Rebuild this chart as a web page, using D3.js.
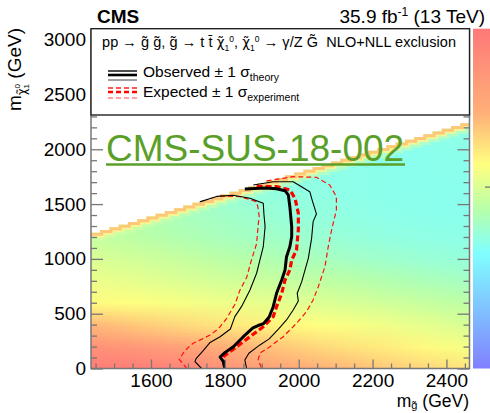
<!DOCTYPE html>
<html><head><meta charset="utf-8">
<script src="https://cdnjs.cloudflare.com/ajax/libs/d3/7.8.5/d3.min.js"></script>
<style>body{margin:0;background:#fff;}svg{display:block;font-family:"Liberation Sans",Arial,Helvetica,sans-serif;}</style>
</head><body><svg id="c" width="490" height="413"></svg>
<script>
// ---------------- data ----------------
const mGluino = [1450,1550,1650,1750,1850,1950,2050,2150,2250,2350,2450];
const mChi = [0,200,400,600,800,1000,1200,1400,1600,1800,2000,2200];
// 95% CL upper limit on cross section (pb); rows follow mChi, columns follow mGluino
const xsecLimit = [
 [0.078,0.075,0.068,0.055,0.042,0.034,0.028,0.024,0.021,0.019,0.017],
 [0.050,0.045,0.038,0.031,0.026,0.022,0.019,0.017,0.0155,0.014,0.0125],
 [0.025,0.022,0.0195,0.0175,0.0158,0.0145,0.0135,0.0127,0.0118,0.0108,0.0098],
 [0.0138,0.0134,0.0128,0.0122,0.0115,0.0108,0.0102,0.0096,0.009,0.0084,0.0078],
 [0.0116,0.011,0.0103,0.0096,0.009,0.0085,0.008,0.0075,0.007,0.0066,0.0062],
 [0.0098,0.0092,0.0086,0.0079,0.0073,0.0068,0.0064,0.006,0.0057,0.0054,0.0052],
 [0.0083,0.0077,0.0071,0.0066,0.0062,0.0058,0.0055,0.0052,0.005,0.0049,0.0048],
 [0.0078,0.0072,0.0066,0.0061,0.0057,0.0053,0.0051,0.0049,0.0047,0.0046,0.0046],
 [0.0074,0.0068,0.0062,0.0057,0.0053,0.005,0.0049,0.0047,0.0046,0.0046,0.0046],
 [0.0072,0.0066,0.006,0.0055,0.0051,0.0049,0.0048,0.0047,0.0046,0.0046,0.0046],
 [0.007,0.0064,0.0058,0.0054,0.005,0.0048,0.0047,0.0046,0.0046,0.0046,0.0047],
 [0.007,0.0064,0.0058,0.0054,0.005,0.0048,0.0047,0.0046,0.0046,0.0047,0.0048]
];
const massGap = 200;      // scan covers mChi <= mGluino - massGap
const scanStep = 25;
const observed = [[1854,1638],[1909,1646],[1940,1640],[1963,1622],[1972,1582],[1976,1476],[1981,1294],[1981,1203],[1976,1111],[1967,1020],[1963,899],[1954,808],[1940,686],[1931,564],[1920,470],[1905,410],[1890,392],[1876,370],[1850,290],[1823,199],[1800,145],[1787,105],[1796,62],[1800,0]];
const obsMinus = [[1732,1520],[1778,1570],[1823,1580],[1868,1553],[1904,1507],[1906,1400],[1909,1294],[1904,1111],[1895,990],[1886,869],[1868,716],[1845,564],[1827,473],[1815,360],[1787,290],[1760,238],[1742,165],[1722,90],[1719,62],[1730,25],[1737,0]];
const obsPlus = [[1877,1674],[1931,1704],[1985,1704],[2030,1613],[2037,1530],[2048,1410],[2039,1340],[2035,1190],[2026,1005],[2008,790],[1996,686],[1999,615],[1985,534],[1967,443],[1945,360],[1920,270],[1895,215],[1865,139],[1854,78],[1859,0]];
const expected = [[1886,1659],[1940,1659],[1976,1629],[1990,1553],[1999,1416],[1999,1264],[1994,1081],[1981,990],[1976,899],[1963,808],[1954,686],[1940,564],[1931,473],[1904,381],[1868,290],[1832,199],[1796,108],[1796,62],[1800,0]];
const expMinus = [[1787,1574],[1841,1568],[1886,1522],[1890,1462],[1893,1385],[1890,1300],[1886,1140],[1872,990],[1859,830],[1841,716],[1828,590],[1805,458],[1782,360],[1760,305],[1738,268],[1714,230],[1700,190],[1687,139],[1676,85],[1687,40],[1697,0]];
const expPlus = [[1913,1711],[1985,1750],[2048,1744],[2084,1674],[2102,1568],[2102,1446],[2089,1264],[2080,1111],[2071,929],[2053,746],[2039,625],[2021,518],[1994,412],[1958,290],[1922,199],[1895,139],[1890,78],[1900,0]];
const xTicks = [1600,1800,2000,2200,2400];
const yTicks = [0,500,1000,1500,2000,2500,3000];
const zDomain = [8.5e-4, 8.5e-2];
const zTicks = [1e-2];
const paletteT = [0,0.17,0.34,0.47,0.6,0.75,1];
const paletteC = ["#8080ff","#80c0ff","#80ffff","#b8ffa8","#ffff80","#ffb078","#ff7878"];

// ---------------- scales ----------------
const L=91,R=469.5,T=28.7,B=368.5;
const x = d3.scaleLinear().domain([1437.5,2462.5]).range([L,R]);
const y = d3.scaleLinear().domain([0,3100]).range([B,T]);
const zt = d3.scaleLog().domain(zDomain).range([0,1]).clamp(true);
const pal = d3.scaleLinear().domain(paletteT).range(paletteC);
const color = v => pal(zt(v));

const svg = d3.select("#c");
const defs = svg.append("defs");

// staircase boundary of scanned region
const bins = d3.range(1437.5, 2462.5, scanStep);
const topPts = [];
bins.forEach(b => { const t = b - massGap; topPts.push([b,t],[b+scanStep,t]); });
const regionPts = [[1437.5,0], ...topPts, [2462.5,0]];
const lineXY = d3.line().x(d=>x(d[0])).y(d=>y(d[1]));
defs.append("clipPath").attr("id","heatclip").append("path").attr("d", lineXY(regionPts)+"Z");
defs.append("clipPath").attr("id","frameclip").append("rect").attr("x",L).attr("y",T).attr("width",R-L).attr("height",B-T);

// heat map
const cv = document.createElement("canvas");
cv.width = mGluino.length; cv.height = mChi.length;
const ctx = cv.getContext("2d");
mChi.forEach((mc,j)=>mGluino.forEach((mg,i)=>{
  ctx.fillStyle = color(xsecLimit[j][i]);
  ctx.fillRect(i, mChi.length-1-j, 1, 1);
}));
const dG = mGluino[1]-mGluino[0], dC = mChi[1]-mChi[0];
const heat = svg.append("g").attr("clip-path","url(#heatclip)");
heat.append("image").attr("href", cv.toDataURL())
  .attr("x", x(mGluino[0]-dG/2)).attr("y", y(mChi[mChi.length-1]+dC/2))
  .attr("width", x(mGluino[mGluino.length-1]+dG/2)-x(mGluino[0]-dG/2))
  .attr("height", y(mChi[0]-dC/2)-y(mChi[mChi.length-1]+dC/2))
  .attr("preserveAspectRatio","none");
// compressed-region band along the kinematic edge
[[16,"#d8ffa8",0.45],[10,"#fbf590",0.85],[6,"#ffc878",1]].forEach(([w,c,o])=>{
  heat.append("path").attr("d", lineXY(topPts)).attr("fill","none")
    .attr("stroke",c).attr("stroke-width",w).attr("stroke-opacity",o);
});

// contours
const cont = svg.append("g").attr("clip-path","url(#frameclip)").attr("fill","none").attr("stroke-linejoin","round");
const drawC = (d, stroke, w, dash) => cont.append("path").attr("d", lineXY(d)).attr("stroke",stroke).attr("stroke-width",w).attr("stroke-dasharray",dash||null);
drawC(expMinus,"#ff1010",1.2,"5,3");
drawC(expPlus,"#ff1010",1.2,"5,3");
drawC(obsMinus,"#000",1.1);
drawC(obsPlus,"#000",1.1);
drawC(expected,"#ff0000",3.2,"6,3");
drawC(observed,"#000",3);

// axes
const axisCol = "#777";
function styleAxis(g){ g.select(".domain").remove(); g.selectAll(".tick line").attr("stroke",axisCol).attr("stroke-width",1.3); g.selectAll("text").attr("fill","#000").attr("font-size",19).attr("font-family",'"Liberation Sans",Arial,sans-serif'); }
svg.append("g").attr("transform",`translate(0,${B})`).call(d3.axisBottom(x).tickValues(d3.range(1450,2462,50).filter(v=>v%200!==0)).tickSize(-5).tickFormat("")).call(styleAxis);
svg.append("g").attr("transform",`translate(0,${B})`).call(d3.axisBottom(x).tickValues(xTicks).tickSize(-9).tickPadding(6).tickFormat(d3.format("d"))).call(styleAxis)
  .selectAll("text").attr("dy",null).attr("y",18.3);
svg.append("g").attr("transform",`translate(${L},0)`).call(d3.axisLeft(y).tickValues(d3.range(0,3101,100).filter(v=>v%500!==0)).tickSize(-6).tickFormat("")).call(styleAxis);
svg.append("g").attr("transform",`translate(${L},0)`).call(d3.axisLeft(y).tickValues(yTicks).tickSize(-12).tickPadding(5).tickFormat(d3.format("d"))).call(styleAxis);
svg.append("g").attr("transform",`translate(${R},0)`).call(d3.axisRight(y).tickValues(d3.range(0,3101,100).filter(v=>v%500!==0)).tickSize(-6).tickFormat("")).call(styleAxis);
svg.append("g").attr("transform",`translate(${R},0)`).call(d3.axisRight(y).tickValues(yTicks).tickSize(-12).tickFormat("")).call(styleAxis);
svg.append("path").attr("d",`M${L},${T}V${B}H${R}V${T}`).attr("fill","none").attr("stroke",axisCol).attr("stroke-width",1.5);

// color bar
const grad = defs.append("linearGradient").attr("id","zgrad").attr("x1",0).attr("y1",1).attr("x2",0).attr("y2",0);
paletteT.forEach((t,i)=>grad.append("stop").attr("offset",t).attr("stop-color",paletteC[i]));
const zy = d3.scaleLog().domain(zDomain).range([B,T]);
svg.append("rect").attr("x",473).attr("y",T).attr("width",25).attr("height",B-T).attr("fill","url(#zgrad)");
svg.append("g").attr("transform","translate(497,0)").call(d3.axisLeft(zy).tickValues(zTicks).tickSize(12).tickFormat("")).call(styleAxis);

// legend box
svg.append("rect").attr("x",L).attr("y",T).attr("width",R-L).attr("height",115-T).attr("fill","#fff").attr("stroke","#222").attr("stroke-width",1.4);

function rich(sel, parts){
  let cur = 0;
  parts.forEach(p=>{
    const ts = sel.append("tspan").text(p.t);
    if(p.fs) ts.attr("font-size",p.fs);
    if(p.ff) ts.attr("font-family",p.ff);
    const target = p.dy||0;
    ts.attr("dy", target-cur); cur = target;
    if(p.dx) ts.attr("dx",p.dx);
  });
}
const DJ = '"DejaVu Sans"';
const ttl = svg.append("text").attr("x",102).attr("y",47).attr("font-size",14.5).attr("textLength",354).attr("lengthAdjust","spacing");
rich(ttl,[{t:"pp → g\u0303 g\u0303, g\u0303 → t t\u0304 "},{t:"χ\u0303",ff:DJ,fs:13.5},{t:"1",fs:8.5,dy:3.5},{t:"0",fs:8.5,dy:-5.5},
  {t:", "},{t:"χ\u0303",ff:DJ,fs:13.5},{t:"1",fs:8.5,dy:3.5},{t:"0",fs:8.5,dy:-5.5},{t:" → γ/Z G\u0303\u00a0\u00a0NLO+NLL exclusion"}]);

const lx0=108, lx1=137;
[[71,1.4,"#000"],[75,2.6,"#000"],[80,1.4,"#777"]].forEach(([yy,w,c])=>svg.append("line").attr("x1",lx0).attr("x2",lx1).attr("y1",yy).attr("y2",yy).attr("stroke",c).attr("stroke-width",w));
[[88,1.3,"#ff2020"],[92,2.6,"#ff0000"],[98,1.3,"#ff8080"]].forEach(([yy,w,c])=>svg.append("line").attr("x1",lx0).attr("x2",lx1).attr("y1",yy).attr("y2",yy).attr("stroke",c).attr("stroke-width",w).attr("stroke-dasharray","5,3"));
const le1 = svg.append("text").attr("x",143).attr("y",76.5).attr("font-size",15.5);
rich(le1,[{t:"Observed ± 1 σ"},{t:"theory",fs:10.5,dy:4}]);
const le2 = svg.append("text").attr("x",143).attr("y",96.5).attr("font-size",15.5);
rich(le2,[{t:"Expected ± 1 σ"},{t:"experiment",fs:10.5,dy:4}]);

// header
svg.append("text").attr("x",97).attr("y",22.5).attr("font-size",19).attr("font-weight","bold").text("CMS");
const lumi = svg.append("text").attr("x",485).attr("y",22.5).attr("font-size",19).attr("text-anchor","end");
rich(lumi,[{t:"35.9 fb"},{t:"-1",fs:12,dy:-7},{t:" (13 TeV)",dy:0}]);

// axis titles
const xt = svg.append("text").attr("x",469).attr("y",406.5).attr("font-size",17.5).attr("text-anchor","end");
rich(xt,[{t:"m"},{t:"g\u0303",fs:11,dy:2.5},{t:" (GeV)",dy:0}]);
const yt = svg.append("text").attr("transform","translate(21,28) rotate(-90)").attr("font-size",19).attr("text-anchor","end");
rich(yt,[{t:"m"},{t:"χ\u0303",ff:DJ,fs:11.5,dy:5},{t:"1",fs:8,dy:8},{t:"0",fs:8,dy:-1,dx:-4.4},{t:" (GeV)",dy:0}]);

// watermark
svg.append("text").attr("x",106).attr("y",161).attr("font-size",37).attr("fill","#5aa028").text("CMS-SUS-18-002");
svg.append("line").attr("x1",106).attr("x2",405).attr("y1",164.5).attr("y2",164.5).attr("stroke","#5aa028").attr("stroke-width",2.4);
</script></body></html>
